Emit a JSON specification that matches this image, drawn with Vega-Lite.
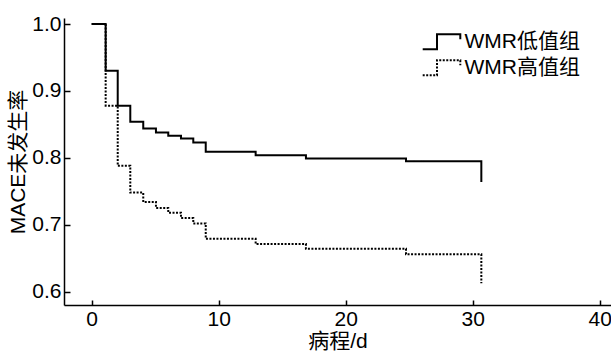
{
  "$schema": "https://vega.github.io/schema/vega-lite/v6.json",
  "width": 547,
  "height": 287,
  "autosize": "none",
  "padding": {"left": 64, "top": 18, "right": 0, "bottom": 51},
  "background": "white",
  "config": {
    "view": {"stroke": null},
    "font": "Liberation Sans, Noto Sans CJK SC, sans-serif",
    "axis": {
      "grid": false,
      "domainColor": "black",
      "domainWidth": 1.5,
      "tickColor": "black",
      "tickWidth": 1.5,
      "labelColor": "black",
      "titleColor": "black",
      "labelFontSize": 21,
      "titleFontSize": 21,
      "titleFontWeight": "normal",
      "labelFont": "Liberation Sans, Noto Sans CJK SC, sans-serif",
      "titleFont": "Liberation Sans, Noto Sans CJK SC, sans-serif"
    }
  },
  "data": {
    "values": [
      {"t": 0, "s": 1.0, "g": "WMR低值组"},
      {"t": 1.1, "s": 0.930, "g": "WMR低值组"},
      {"t": 2.05, "s": 0.878, "g": "WMR低值组"},
      {"t": 3.04, "s": 0.854, "g": "WMR低值组"},
      {"t": 4.06, "s": 0.844, "g": "WMR低值组"},
      {"t": 5.06, "s": 0.838, "g": "WMR低值组"},
      {"t": 6.03, "s": 0.833, "g": "WMR低值组"},
      {"t": 7.03, "s": 0.829, "g": "WMR低值组"},
      {"t": 8.0, "s": 0.823, "g": "WMR低值组"},
      {"t": 8.98, "s": 0.809, "g": "WMR低值组"},
      {"t": 12.91, "s": 0.804, "g": "WMR低值组"},
      {"t": 16.87, "s": 0.799, "g": "WMR低值组"},
      {"t": 24.75, "s": 0.795, "g": "WMR低值组"},
      {"t": 30.68, "s": 0.764, "g": "WMR低值组"},
      {"t": 0, "s": 1.0, "g": "WMR高值组"},
      {"t": 1.1, "s": 0.878, "g": "WMR高值组"},
      {"t": 2.05, "s": 0.788, "g": "WMR高值组"},
      {"t": 3.04, "s": 0.748, "g": "WMR高值组"},
      {"t": 4.06, "s": 0.734, "g": "WMR高值组"},
      {"t": 5.06, "s": 0.725, "g": "WMR高值组"},
      {"t": 6.03, "s": 0.718, "g": "WMR高值组"},
      {"t": 7.03, "s": 0.710, "g": "WMR高值组"},
      {"t": 8.0, "s": 0.702, "g": "WMR高值组"},
      {"t": 8.98, "s": 0.679, "g": "WMR高值组"},
      {"t": 12.91, "s": 0.671, "g": "WMR高值组"},
      {"t": 16.87, "s": 0.664, "g": "WMR高值组"},
      {"t": 24.75, "s": 0.656, "g": "WMR高值组"},
      {"t": 30.68, "s": 0.6125, "g": "WMR高值组"}
    ]
  },
  "mark": {"type": "line", "interpolate": "step-after", "color": "black", "strokeWidth": 2, "clip": true},
  "encoding": {
    "x": {
      "field": "t", "type": "quantitative",
      "scale": {"domain": [-2.18, 40.89], "nice": false, "zero": false},
      "axis": {"values": [0, 10, 20, 30, 40], "title": "病程/d", "tickSize": -5, "labelPadding": 8, "titlePadding": 1, "format": "d"}
    },
    "y": {
      "field": "s", "type": "quantitative",
      "scale": {"domain": [0.58, 1.009], "nice": false, "zero": false},
      "axis": {"values": [0.6, 0.7, 0.8, 0.9, 1.0], "format": ".1f", "title": "MACE未发生率", "tickSize": -6, "labelPadding": 9, "titlePadding": 3}
    },
    "strokeDash": {
      "field": "g", "type": "nominal",
      "scale": {"domain": ["WMR低值组", "WMR高值组"], "range": [[1, 0], [2, 1.5]]},
      "legend": {
        "title": null,
        "orient": "none",
        "legendX": 363.5,
        "legendY": 10,
        "padding": 0,
        "symbolType": "M-1.446,0.56H-0.346V-0.59H1.446V-0.21",
        "symbolSize": 676,
        "symbolStrokeWidth": 2,
        "symbolStrokeColor": "black",
        "symbolFillColor": "transparent",
        "labelFontSize": 21,
        "labelColor": "black",
        "labelOffset": 9,
        "rowPadding": 0,
        "labelFont": "Liberation Sans, Noto Sans CJK SC, sans-serif"
      }
    }
  }
}
